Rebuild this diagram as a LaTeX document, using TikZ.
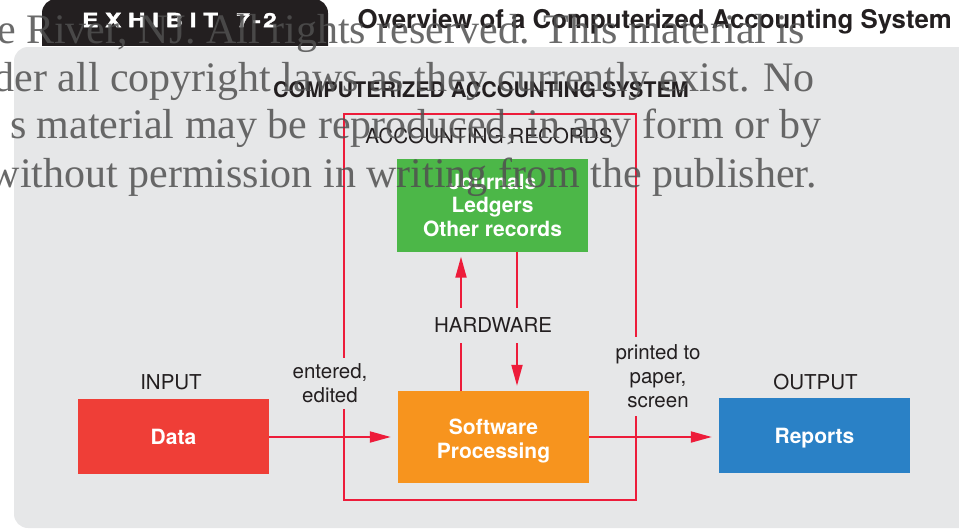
\documentclass[tikz,border=0pt]{standalone}
\usepackage{graphicx}
\usepackage{fontspec}
\setmainfont{TeX Gyre Heros}
\newfontfamily\noticefont{Liberation Serif}
\newfontfamily\tabfont{TeX Gyre Heros}[BoldFeatures={FakeBold=1.6}]
\usetikzlibrary{arrows.meta}

\definecolor{panel}{HTML}{E6E7E8}
\definecolor{tabblack}{HTML}{231F20}
\definecolor{inkblack}{HTML}{231F20}
\definecolor{linkred}{HTML}{ED1C3A}
\definecolor{datared}{HTML}{EF3E37}
\definecolor{recgreen}{HTML}{4CB748}
\definecolor{procorange}{HTML}{F7941E}
\definecolor{repblue}{HTML}{2A81C6}
\definecolor{noticegray}{HTML}{505050}

\tikzset{
  box/.style={fill=#1, text=white, align=center, inner sep=0pt,
    minimum width=191pt,
    font=\bfseries\fontsize{21}{23.5}\selectfont},
  boxtext/.style={text=white, align=center, inner sep=0pt,
    font=\bfseries\fontsize{21}{24}\selectfont},
  lbl/.style={text=inkblack, inner sep=0pt,
    font=\fontsize{20.5}{23.5}\selectfont},
  cutlbl/.style={lbl, fill=panel, align=center, inner xsep=3pt},
  arr/.style={draw=linkred, line width=2pt,
    -{Triangle[length=21pt,width=11pt]}},
  sysframe/.style={draw=linkred, line width=1.8pt, inner sep=0pt},
  notice/.style={anchor=base east, inner sep=0pt, text=noticegray,
    text opacity=0.85, font=\noticefont\fontsize{42}{42}\selectfont}
}

\begin{document}
\begin{tikzpicture}[x=1pt,y=-1pt]
\useasboundingbox (0,0) rectangle (959,530);
\clip (0,0) rectangle (959,530);

% background panel
\fill[panel, rounded corners=14pt] (14,47) rectangle (990,528);

% exhibit tab
\begin{scope}
  \clip (0,-5) rectangle (959,45);
  \fill[tabblack, rounded corners=14pt] (42,-1) rectangle (328,80);
\end{scope}
\node[anchor=west, text=white, inner sep=0pt,
      font=\tabfont\bfseries\fontsize{19.5}{20}\selectfont] (exhibit) at (82,20)
  {\scalebox{1.25}[1]{E\kern5.3pt X\kern5.3pt H\kern5.3pt I\kern5.3pt B\kern5.3pt I\kern5.3pt T\kern5.3pt\ \kern4pt 7\kern2pt -\kern2pt 2}};

% headings
\node[anchor=base east, inner sep=0pt, text=inkblack,
      font=\bfseries\fontsize{25.8}{26}\selectfont] (title) at (952,28)
  {Overview of a Computerized Accounting System};
\node[text=inkblack, inner sep=0pt,
      font=\bfseries\fontsize{21.5}{22}\selectfont] (cas) at (481,90)
  {COMPUTERIZED ACCOUNTING SYSTEM};

% system frame
\node[sysframe, minimum width=292pt, minimum height=386pt] (frame) at (490,307) {};
\node[lbl, font=\fontsize{20.7}{22}\selectfont] (acct) at (489,136) {ACCOUNTING RECORDS};

% boxes
\node[box=datared, minimum height=75pt] (data) at (173.5,436.5) {Data};
\node[box=repblue, minimum height=75pt, text depth=0pt] (rep) at (814.5,435.5) {Reports};
\node[box=recgreen, minimum height=93pt] (rec) at (492.5,205)
  {Journals\\Ledgers\\Other records};
\node[box=procorange, minimum height=92pt] (sw) at (493.5,437) {};
\node[boxtext] (swtext) at ([yshift=-4pt]sw.center) {Software\\Processing};

\node[lbl] (inp) at (171,382.5) {INPUT};
\node[lbl] (outp) at (815.5,382.5) {OUTPUT};

% flows
\coordinate (upx) at (461,0);
\coordinate (dnx) at (517,0);
\draw[arr, shorten >=7pt] (data.east |- sw.west) -- (sw.west);
\draw[arr, shorten >=7pt] (sw.east) -- (rep.west |- sw.east);
\draw[arr, shorten >=5pt] (sw.north -| upx) -- (rec.south -| upx);
\draw[arr, shorten >=5pt] (rec.south -| dnx) -- (sw.north -| dnx);

% labels that interrupt the lines
\node[cutlbl, minimum height=35pt] (hw) at (493,325.5) {HARDWARE};
\node[cutlbl, minimum height=51pt] (ent) at (330,383) {entered,\\edited};
\node[cutlbl, minimum height=79pt, font=\fontsize{20.5}{24}\selectfont] (prt) at (658,376.5)
  {printed to\\paper,\\screen};

% overprinted rights notice
\node[notice] (n1) at (805,43) {e River, NJ. All rights reserved. This material is};
\node[notice] (n2) at (815,91) {der all copyright laws as they currently exist. No};
\node[notice] (n3) at (822,138) {s material may be reproduced, in any form or by};
\node[notice] (n4) at (817,187) {without permission in writing from the publisher.};
\end{tikzpicture}
\end{document}
